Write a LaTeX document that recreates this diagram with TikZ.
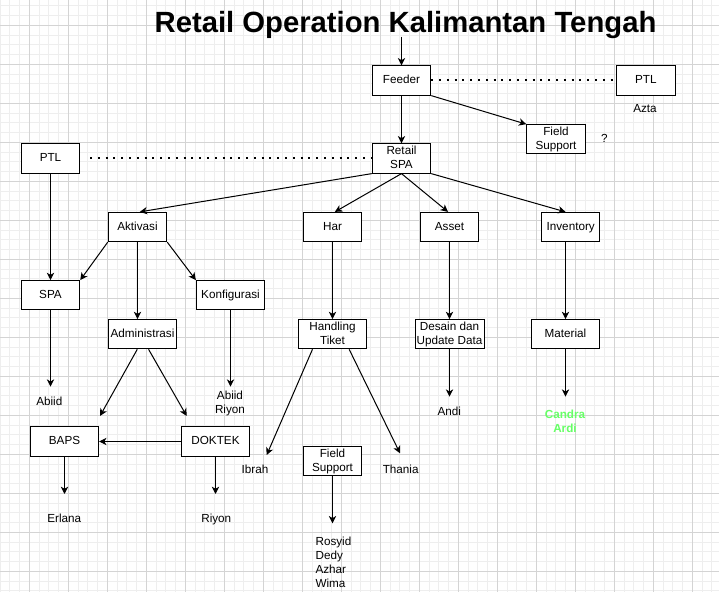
\documentclass[tikz,border=0pt]{standalone}
\usepackage{fontspec}
\setmainfont{Liberation Sans}
\usetikzlibrary{arrows.meta,calc}
\definecolor{gmaj}{RGB}{212,212,212}
\definecolor{gmin}{RGB}{238,238,238}
\definecolor{cgreen}{RGB}{102,255,102}
\newcommand{\sst}{\rule[-1.8pt]{0pt}{8.4pt}}
\newcommand{\fsz}{\fontsize{8.78pt}{10.3pt}\selectfont}
\begin{document}
\begin{tikzpicture}[x=0.75pt,y=-0.75pt,
  box/.style={draw=black, line width=0.75pt, fill=white, inner sep=0pt, minimum height=21.94pt, minimum width=43.875pt, align=center, font=\fsz},
  wide/.style={box, minimum width=51.19pt},
  lbl/.style={inner sep=0pt, align=center, font=\fsz},
  con/.style={draw=black, line width=0.75pt, -{Stealth[length=5.5pt,width=5.5pt,inset=1.6pt]}},
  dotl/.style={draw=black, line width=1.5pt, dash pattern=on 1.5pt off 4.35pt}
]
% background and grid
\fill[white] (0,0) rectangle (719,592);
\useasboundingbox (0,0) rectangle (719,592);
\foreach \i in {0,...,73} \draw[gmin, line width=0.75pt] ({0.05+9.75*\i},0) -- ({0.05+9.75*\i},592);
\foreach \i in {0,...,60} \draw[gmin, line width=0.75pt] (0,{5.8+9.75*\i}) -- (719,{5.8+9.75*\i});
\foreach \i in {0,...,17} \draw[gmaj, line width=0.75pt] ({29.3+39*\i},0) -- ({29.3+39*\i},592);
\foreach \i in {0,...,14} \draw[gmaj, line width=0.75pt] (0,{25.3+39*\i}) -- (719,{25.3+39*\i});

% title
\node[anchor=base, inner sep=0pt, font=\fontsize{21.94pt}{26pt}\selectfont\bfseries] (title) at (405.5,32.3) {Retail Operation Kalimantan Tengah};

% boxes
\node[box] (feeder) at (401.5,80.5) {\sst Feeder};
\node[box] (ptlR) at (645.8,80.5) {\sst PTL};
\node[box] (fsTop) at (556,139.3) {\sst Field\\\sst Support};
\node[box] (retail) at (401.5,158.5) {\sst Retail\\\sst SPA};
\node[box] (ptlL) at (50.5,158.5) {\sst PTL};
\node[box] (aktivasi) at (137.5,227) {\sst Aktivasi};
\node[box] (har) at (332.5,227) {\sst Har};
\node[box] (asset) at (449.5,227) {\sst Asset};
\node[box] (inventory) at (570.7,227) {\sst Inventory};
\node[box] (spa) at (50.5,295.2) {\sst SPA};
\node[wide] (konf) at (230.5,295.2) {\sst Konfigurasi};
\node[wide] (admin) at (142.5,334.2) {\sst Administrasi};
\node[wide] (handling) at (332.5,334.2) {\sst Handling\\\sst Tiket};
\node[wide, minimum width=51.75pt] (desain) at (449.5,334.2) {\sst Desain dan\\\sst Update Data};
\node[wide] (material) at (565.5,334.2) {\sst Material};
\node[wide] (baps) at (64.5,441.5) {\sst BAPS};
\node[wide] (doktek) at (215.5,441.5) {\sst DOKTEK};
\node[box] (fsBot) at (332.5,461) {\sst Field\\\sst Support};

% labels
\node[lbl] (azta) at (645,109.3) {\sst Azta};
\node[lbl] (qm) at (604.3,139.5) {\sst ?};
\node[lbl] (abiid) at (49.3,402.3) {\sst Abiid};
\node[lbl] (abiidriyon) at (230,403.1) {\sst Abiid\\\sst Riyon};
\node[lbl] (erlana) at (64.3,519.5) {\sst Erlana};
\node[lbl] (riyon) at (216.3,519.5) {\sst Riyon};
\node[lbl] (ibrah) at (255,470.5) {\sst Ibrah};
\node[lbl] (thania) at (400.7,470.5) {\sst Thania};
\node[lbl] (andi) at (449.3,412.3) {\sst Andi};
\node[lbl, text=cgreen, font=\fsz\bfseries] (candra) at (565,422.2) {\sst Candra\\\sst Ardi};
\node[lbl, anchor=west, align=left, font=\fontsize{8.78pt}{10.5pt}\selectfont] (fsnames) at (315.3,563.6) {\sst Rosyid\\\sst Dedy\\\sst Azhar\\\sst Wima};

% free ends
\coordinate (top0) at (401.5,36.7);
\coordinate (dl0) at (90,158.5);
\coordinate (eAbiid) at (50.5,386.7);
\coordinate (eAbRi) at (230.5,386.7);
\coordinate (eBaps) at (100,416);
\coordinate (eDok) at (186.7,416);
\coordinate (eErl) at (64.5,494);
\coordinate (eRiy) at (215.5,494);
\coordinate (eIbr) at (266.7,455);
\coordinate (eTha) at (400,453.3);
\coordinate (eRos) at (332.5,523.3);
\coordinate (eAndi) at (449.5,396.7);
\coordinate (eCan) at (565.5,396.7);

% connectors
\draw[con] (top0) -- (feeder.north);
\draw[con] (feeder.south) -- (retail.north);
\draw[con] (feeder.south east) -- (fsTop.north west);
\draw[dotl] (feeder.east) -- (ptlR.west);
\draw[dotl] (dl0) -- (retail.west);
\draw[con] (ptlL.south) -- (spa.north);
\draw[con] (retail.south west) -- ($(aktivasi.north)+(2.3,0)$);
\draw[con] (retail.south) -- ($(har.north)+(2.4,0)$);
\draw[con] (retail.south) -- ($(asset.north)+(-1.5,0)$);
\draw[con] (retail.south east) -- (material.north |- inventory.north);
\draw[con] (aktivasi.south west) -- (spa.north east);
\draw[con] (aktivasi.south) -- (aktivasi.south |- admin.north);
\draw[con] (aktivasi.south east) -- (konf.north west);
\draw[con] (spa.south) -- (eAbiid);
\draw[con] (konf.south) -- (eAbRi);
\draw[con] ($(admin.south west)+(29.4,0)$) -- (eBaps);
\draw[con] ($(admin.south west)+(40.7,0)$) -- (eDok);
\draw[con] (doktek.west) -- (baps.east);
\draw[con] (baps.south) -- (eErl);
\draw[con] (doktek.south) -- (eRiy);
\draw[con] (har.south) -- (handling.north);
\draw[con] ($(handling.south west)+(14.6,0)$) -- (eIbr);
\draw[con] ($(handling.south west)+(51.3,0)$) -- (eTha);
\draw[con] (fsBot.south) -- (eRos);
\draw[con] (asset.south) -- (desain.north);
\draw[con] (desain.south) -- (eAndi);
\draw[con] (material.north |- inventory.south) -- (material.north);
\draw[con] (material.south) -- (eCan);
\end{tikzpicture}
\end{document}
